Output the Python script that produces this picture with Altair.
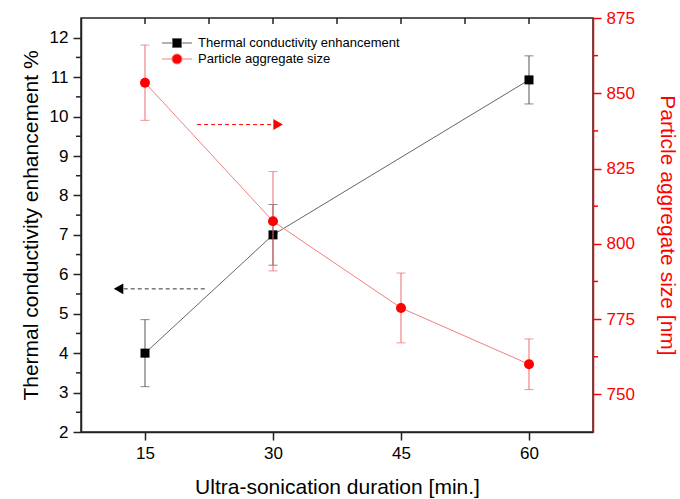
import altair as alt
import pandas as pd

# ---------------- data ----------------
durations_tc = [15, 30, 60]
tc_values = [4.0, 7.0, 10.93]
tc_errors = [0.85, 0.77, 0.61]

durations_ps = [15, 30, 45, 60]
ps_values = [853.5, 807.5, 778.7, 760.0]
ps_errors = [12.5, 16.5, 11.6, 8.4]

series_names = ["Thermal conductivity enhancement", "Particle aggregate size"]

x_ticks = [15, 30, 45, 60]
top_ticks = [15, 22.5, 30, 37.5, 45, 52.5, 60]
left_ticks = [2, 3, 4, 5, 6, 7, 8, 9, 10, 11, 12]
left_minor = [2.5, 3.5, 4.5, 5.5, 6.5, 7.5, 8.5, 9.5, 10.5, 11.5]
right_ticks = [750, 775, 800, 825, 850, 875]
right_minor = [762.5, 787.5, 812.5, 837.5, 862.5]

# annotation arrows (data units): tail x, arrow-head x, y level
arrow_tc_x = [22.0, 11.9]
arrow_tc_y = [5.63, 5.63]
arrow_ps_x = [21.1, 30.6]
arrow_ps_y = [839.6, 839.6]

# ---------------- styling ----------------
FONT = "Liberation Sans"
W, H = 512, 414
AX = "#222222"
RED = "#ff0000"

tc_df = pd.DataFrame({
    "x": durations_tc,
    "y": tc_values,
    "lo": [v - e for v, e in zip(tc_values, tc_errors)],
    "hi": [v + e for v, e in zip(tc_values, tc_errors)],
})
ps_df = pd.DataFrame({
    "x": durations_ps,
    "y": ps_values,
    "lo": [v - e for v, e in zip(ps_values, ps_errors)],
    "hi": [v + e for v, e in zip(ps_values, ps_errors)],
})

xscale = alt.Scale(domain=[7.5, 67.5], nice=False, zero=False)
yl_scale = alt.Scale(domain=[2, 12.5], nice=False, zero=False)
yr_scale = alt.Scale(domain=[737.5, 875], nice=False, zero=False)

x_axis = alt.Axis(
    values=x_ticks, title="Ultra-sonication duration [min.]", grid=False,
    labelFont=FONT, labelFontSize=17, labelColor="black", labelPadding=5,
    tickSize=8, tickColor=AX, tickWidth=1.5, domainColor=AX, domainWidth=1.5,
    titleFont=FONT, titleFontSize=21, titleFontWeight="normal", titleColor="black",
    titleY=55, titleBaseline="middle",
)
left_axis = alt.Axis(
    orient="left", values=left_ticks, title="Thermal conductivity enhancement %", grid=False,
    labelFont=FONT, labelFontSize=17, labelColor="black", labelPadding=5,
    tickSize=8, tickColor=AX, tickWidth=1.5, domainColor=AX, domainWidth=1.5,
    titleFont=FONT, titleFontSize=21, titleFontWeight="normal", titleColor="black",
    titleX=-50, titleY=H / 2, titleBaseline="middle",
)
right_axis = alt.Axis(
    orient="right", values=right_ticks, title="Particle aggregate size [nm]", grid=False,
    labelFont=FONT, labelFontSize=17, labelColor=RED, labelPadding=5,
    tickSize=8, tickColor=RED, tickWidth=1.5, domainColor=RED, domainWidth=1.5,
    titleFont=FONT, titleFontSize=21, titleFontWeight="normal", titleColor=RED,
    titleX=73, titleY=H / 2, titleBaseline="middle",
)


def X(field):
    return alt.X(field, type="quantitative", scale=xscale, axis=x_axis)


def YL(field):
    return alt.Y(field, type="quantitative", scale=yl_scale, axis=left_axis)


def YR(field):
    return alt.Y(field, type="quantitative", scale=yr_scale, axis=right_axis)


# ---------------- left (black) series ----------------
tc_base = alt.Chart(tc_df)
tc_line = tc_base.mark_line(color="#666666", strokeWidth=1).encode(x=X("x"), y=YL("y"))
tc_err = tc_base.mark_errorbar(ticks={"size": 9}, color="#555555", thickness=1).encode(
    x=X("x"), y=YL("lo"), y2="hi")
tc_pts = tc_base.mark_square(size=81, color="black", opacity=1).encode(x=X("x"), y=YL("y"))

lminor = alt.Chart(pd.DataFrame({"v": left_minor})).mark_rule(color=AX, strokeWidth=1.5).encode(
    y=YL("v"), x=alt.value(-5), x2=alt.value(0))
topt = alt.Chart(pd.DataFrame({"t": top_ticks})).mark_rule(color=AX, strokeWidth=1.5).encode(
    x=X("t"), y=alt.value(0), y2=alt.value(6))

arr_tc_df = pd.DataFrame({"x": [arrow_tc_x[0]], "x2": [arrow_tc_x[1]], "y": [arrow_tc_y[0]]})
arr_tc_line = alt.Chart(arr_tc_df).mark_rule(color="#333333", strokeWidth=1, strokeDash=[4, 3]).encode(
    x=X("x"), x2="x2", y=YL("y"))
arr_tc_head = alt.Chart(arr_tc_df).mark_point(shape="triangle-left", filled=True, size=120,
                                               color="black", opacity=1).encode(x=X("x2"), y=YL("y"))

# legend (symbols carry a line segment plus the marker)
path_sq = "M-2,0H-0.6M0.6,0H2M-0.6,-0.6H0.6V0.6H-0.6Z"
path_ci = "M-2,0H-0.67M0.67,0H2M-0.67,0A0.67,0.67,0,1,1,0.67,0A0.67,0.67,0,1,1,-0.67,0Z"
leg = alt.Legend(
    orient="none", legendX=88, legendY=17, title=None, padding=0,
    labelFont=FONT, labelFontSize=13, labelColor="black", labelOffset=13, labelLimit=0,
    symbolSize=225, symbolStrokeWidth=1, rowPadding=1, symbolOpacity=1,
)
legend_layer = alt.Chart(pd.DataFrame({"s": series_names})).mark_point(filled=True).encode(
    x=alt.value(-3000), y=alt.value(-3000),
    shape=alt.Shape("s:N", scale=alt.Scale(domain=series_names, range=[path_sq, path_ci]), legend=leg),
    fill=alt.Fill("s:N", scale=alt.Scale(domain=series_names, range=["black", RED]), legend=leg),
    stroke=alt.Stroke("s:N", scale=alt.Scale(domain=series_names, range=["#666666", "#f08080"]), legend=leg),
)

left = alt.layer(tc_line, tc_err, tc_pts, lminor, topt, arr_tc_line, arr_tc_head, legend_layer)

# ---------------- right (red) series ----------------
ps_base = alt.Chart(ps_df)
ps_line = ps_base.mark_line(color="#f08080", strokeWidth=1).encode(x=X("x"), y=YR("y"))
ps_err = ps_base.mark_errorbar(ticks={"size": 9}, color="#f06a6a", thickness=1).encode(
    x=X("x"), y=YR("lo"), y2="hi")
ps_pts = ps_base.mark_circle(size=100, color=RED, opacity=1).encode(x=X("x"), y=YR("y"))

rminor = alt.Chart(pd.DataFrame({"v": right_minor})).mark_rule(color=RED, strokeWidth=1.5).encode(
    y=YR("v"), x=alt.value(W), x2=alt.value(W + 5))

arr_ps_df = pd.DataFrame({"x": [arrow_ps_x[0]], "x2": [arrow_ps_x[1]], "y": [arrow_ps_y[0]]})
arr_ps_line = alt.Chart(arr_ps_df).mark_rule(color=RED, strokeWidth=1, strokeDash=[4, 3]).encode(
    x=X("x"), x2="x2", y=YR("y"))
arr_ps_head = alt.Chart(arr_ps_df).mark_point(shape="triangle-right", filled=True, size=120,
                                               color=RED, opacity=1).encode(x=X("x2"), y=YR("y"))

right = alt.layer(ps_line, ps_err, ps_pts, rminor, arr_ps_line, arr_ps_head)

chart = alt.layer(left, right).resolve_scale(y="independent").properties(
    width=W, height=H,
    autosize=alt.AutoSizeParams(type="none"),
    padding={"left": 81, "top": 18, "right": 680 - 81 - W, "bottom": 499 - 18 - H},
    background="white",
).configure_view(stroke=AX, strokeWidth=1.5)

chart.save("out.html", embed_options={"renderer": "svg", "actions": False})
